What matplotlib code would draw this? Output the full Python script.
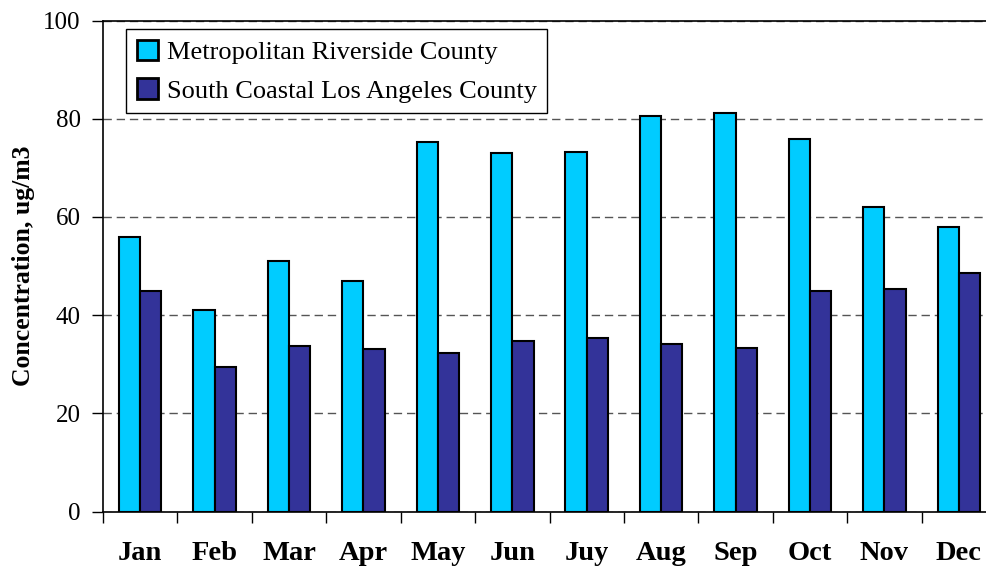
import numpy as np
import matplotlib.pyplot as plt

plt.rcParams['font.family'] = ['Liberation Serif', 'DejaVu Serif']

months = ['Jan', 'Feb', 'Mar', 'Apr', 'May', 'Jun', 'Juy', 'Aug', 'Sep', 'Oct', 'Nov', 'Dec']
riverside = [56, 41, 51, 47, 75.2, 73.0, 73.3, 80.6, 81.2, 75.9, 62.0, 57.9]
south_coastal = [44.9, 29.5, 33.7, 33.0, 32.3, 34.8, 35.4, 34.2, 33.4, 44.9, 45.3, 48.6]

fig = plt.figure(figsize=(9.87, 5.69), dpi=100)
# plot area runs a bit past the right edge of the picture, as in the original
ax = fig.add_axes([103 / 987, 57.5 / 569, 893 / 987, 491 / 569])

x = np.arange(len(months))
w = 0.285
ax.bar(x - w / 2, riverside, w, color='#00CCFF', edgecolor='black', linewidth=1.5,
       label='Metropolitan Riverside County', zorder=3)
ax.bar(x + w / 2, south_coastal, w, color='#333399', edgecolor='black', linewidth=1.5,
       label='South Coastal Los Angeles County', zorder=3)

ax.set_xlim(-0.5, len(months) - 0.5)
ax.set_ylim(0, 100)
ax.set_yticks([0, 20, 40, 60, 80, 100])
ax.tick_params(axis='y', direction='out', length=8, width=1, pad=8, labelsize=18)

# tick marks between categories, labels in the middle
ax.set_xticks(np.arange(len(months) + 1) - 0.5)
ax.set_xticklabels([])
ax.tick_params(axis='x', which='major', direction='out', length=8, width=1)
ax.set_xticks(x, minor=True)
ax.set_xticklabels(months, minor=True, fontsize=20.5, fontweight='bold')
ax.tick_params(axis='x', which='minor', length=0, pad=21)

ax.yaxis.grid(True, linestyle=(0, (6, 3.5)), color='#555555', linewidth=1, zorder=0)
ax.set_axisbelow(True)

for s in ['left', 'bottom', 'top']:
    ax.spines[s].set_linewidth(1.2)
    ax.spines[s].set_color('black')
ax.spines['right'].set_visible(False)

ax.set_ylabel('Concentration, ug/m3', fontsize=18.5, fontweight='bold', labelpad=6)

leg = ax.legend(loc='upper left', bbox_to_anchor=(126 / 987, 1 - 29 / 569),
                bbox_transform=fig.transFigure, borderaxespad=0, fontsize=19,
                fancybox=False, edgecolor='black', framealpha=1,
                handlelength=0.8, handleheight=0.8, handletextpad=0.35,
                labelspacing=0.55, borderpad=0.4)
leg.get_frame().set_linewidth(1)
for h in leg.legend_handles:
    h.set_linewidth(2)

fig.savefig('out.png', dpi=100)
